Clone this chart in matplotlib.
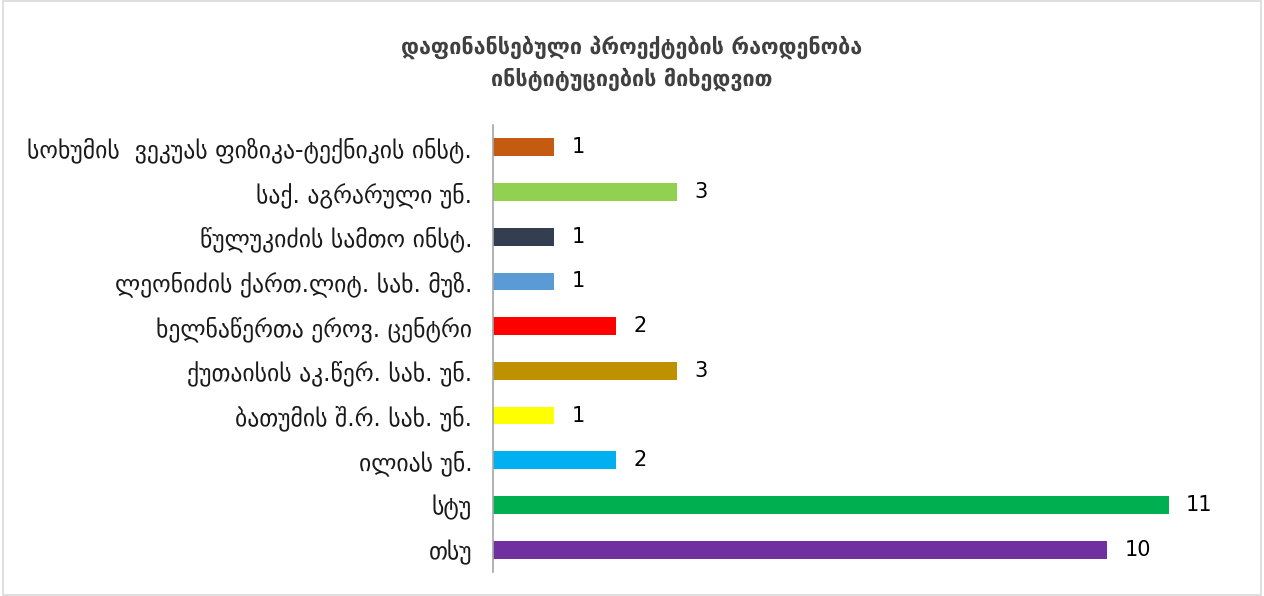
import matplotlib
matplotlib.use("Agg")
import matplotlib.pyplot as plt
from matplotlib.patches import Rectangle

categories = [
    "თსუ",
    "სტუ",
    "ილიას უნ.",
    "ბათუმის შ.რ. სახ. უნ.",
    "ქუთაისის აკ.წერ. სახ. უნ.",
    "ხელნაწერთა ეროვ. ცენტრი",
    "ლეონიძის ქართ.ლიტ. სახ. მუზ.",
    "წულუკიძის სამთო ინსტ.",
    "საქ. აგრარული უნ.",
    "სოხუმის  ვეკუას ფიზიკა-ტექნიკის ინსტ.",
]
values = [10, 11, 2, 1, 3, 2, 1, 1, 3, 1]
colors = ["#7030A0", "#00B050", "#00B0F0", "#FFFF00", "#BF9000",
          "#FF0000", "#5B9BD5", "#333F50", "#92D050", "#C55A11"]
title = "დაფინანსებული პროექტების რაოდენობა\nინსტიტუციების მიხედვით"

plt.rcParams['font.family'] = ['DejaVu Sans']

fig = plt.figure(figsize=(12.64, 5.96), dpi=100)
ax = fig.add_axes([493/1264, 1-572/596, (1230-493)/1264, (572-125)/596])

y = list(range(len(categories)))
ax.barh(y, values, height=0.4, color=colors)
for yi, v in zip(y, values):
    ax.text(v + 0.28, yi, str(v), va='center', ha='left', fontsize=15, color='black')

ax.set_yticks(y)
ax.set_yticklabels(categories, fontsize=17, color='#1a1a1a')
ax.set_ylim(-0.5, len(categories) - 0.5)
ax.set_xlim(0, 12)
ax.set_xticks([])
ax.tick_params(axis='y', length=0, pad=15)
for s in ['top', 'right', 'bottom']:
    ax.spines[s].set_visible(False)
ax.spines['left'].set_color('#A6A6A6')
ax.spines['left'].set_linewidth(1.2)

fig.text(0.5, 1-63/596, title, ha='center', va='center', fontsize=15.5,
         fontweight='bold', color='#404040', linespacing=1.45)

fig.patches.append(Rectangle((0.002, 0.002), 0.996, 0.996, transform=fig.transFigure,
                             fill=False, edgecolor='#D9D9D9', linewidth=1.2))

fig.savefig("out.png", dpi=100, facecolor='white')
